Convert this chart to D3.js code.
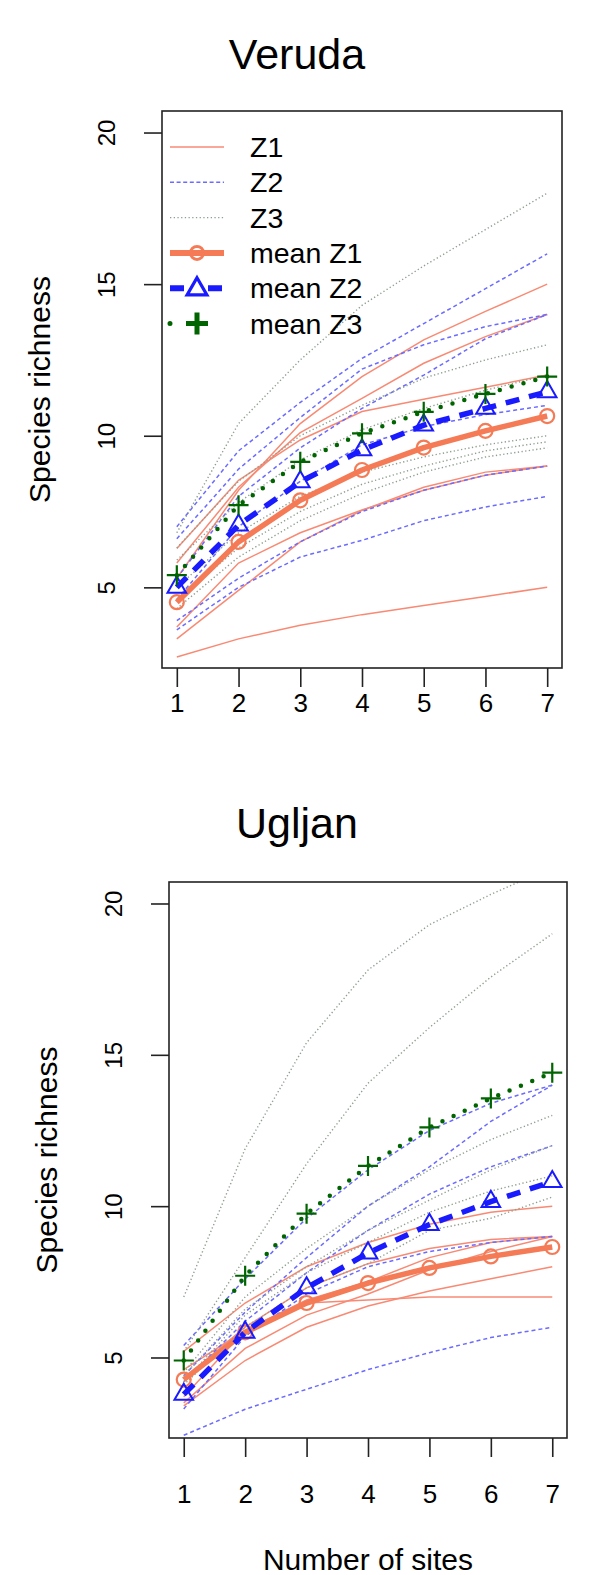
<!DOCTYPE html>
<html>
<head>
<meta charset="utf-8">
<script src="https://cdn.jsdelivr.net/npm/d3@7"></script>
<style>
  body { margin: 0; background: #fff; }
  text { font-family: "Liberation Sans", Arial, sans-serif; fill: #000; }
</style>
</head>
<body>
<svg></svg>
<script>
// ---- data ----
const sites = [1, 2, 3, 4, 5, 6, 7];
const yTicks = [5, 10, 15, 20];
const legendLabels = ['Z1', 'Z2', 'Z3', 'mean Z1', 'mean Z2', 'mean Z3'];

const verudaZ1 = [
  [2.70, 3.30, 3.75, 4.10, 4.40, 4.70, 5.00],
  [3.69, 5.80, 6.80, 7.55, 8.20, 8.70, 9.00],
  [3.30, 4.90, 6.50, 7.54, 8.30, 8.80, 9.00],
  [6.28, 8.53, 9.86, 10.80, 11.20, 11.60, 12.00],
  [5.30, 8.20, 10.40, 11.95, 13.16, 14.10, 15.00],
  [5.80, 8.30, 10.10, 11.23, 12.39, 13.27, 14.00]
];
const verudaZ2 = [
  [7.00, 9.50, 11.10, 12.55, 13.70, 14.85, 16.00],
  [6.60, 8.90, 10.60, 12.20, 13.00, 13.60, 14.00],
  [5.30, 8.00, 9.60, 10.90, 12.00, 13.20, 14.00],
  [4.60, 7.00, 8.50, 9.70, 10.30, 10.70, 11.00],
  [3.90, 5.30, 6.50, 7.50, 8.20, 8.70, 9.00],
  [3.60, 5.00, 6.00, 6.55, 7.20, 7.65, 8.00]
];
const verudaZ3 = [
  [6.80, 10.40, 12.50, 14.30, 15.60, 16.80, 18.00],
  [6.30, 8.50, 10.00, 11.00, 11.90, 12.50, 13.00],
  [5.90, 7.80, 9.20, 10.20, 10.90, 11.50, 12.00],
  [5.00, 6.80, 8.00, 8.80, 9.30, 9.70, 10.00],
  [4.60, 6.30, 7.50, 8.40, 9.00, 9.50, 9.80],
  [4.30, 6.00, 7.20, 8.10, 8.80, 9.30, 9.60]
];
const verudaMeanZ1 = [4.51, 6.50, 7.87, 8.87, 9.61, 10.16, 10.65];
const verudaMeanZ2 = [5.00, 7.05, 8.48, 9.53, 10.35, 10.90, 11.45];
const verudaMeanZ3 = [5.40, 7.71, 9.14, 10.08, 10.79, 11.38, 11.95];

const ugljanZ1 = [
  [5.20, 6.80, 8.00, 8.80, 9.40, 9.80, 10.00],
  [4.30, 6.00, 7.30, 8.10, 8.60, 8.90, 9.00],
  [3.50, 5.30, 6.40, 7.10, 7.90, 8.50, 9.00],
  [3.70, 5.90, 6.80, 6.90, 7.00, 7.00, 7.00],
  [3.40, 4.90, 6.00, 6.70, 7.20, 7.60, 8.00],
  [4.60, 5.90, 6.90, 7.50, 8.30, 8.80, 9.00]
];
const ugljanZ2 = [
  [5.40, 7.60, 9.60, 11.20, 12.50, 13.40, 14.00],
  [4.40, 6.50, 8.30, 10.00, 11.30, 12.80, 14.00],
  [4.20, 6.20, 7.80, 9.20, 10.40, 11.30, 12.00],
  [3.30, 5.70, 7.10, 8.00, 8.50, 8.80, 9.00],
  [2.43, 3.29, 3.95, 4.60, 5.16, 5.66, 6.00]
];
const ugljanZ3 = [
  [7.00, 11.90, 15.40, 17.80, 19.30, 20.30, 21.20],
  [5.20, 8.30, 11.40, 14.06, 15.90, 17.57, 19.00],
  [4.50, 7.00, 8.60, 10.00, 11.20, 12.20, 13.00],
  [4.40, 6.60, 8.00, 9.20, 10.20, 11.20, 12.00],
  [4.20, 6.40, 7.80, 8.80, 9.80, 10.50, 11.00],
  [4.10, 6.00, 7.30, 8.10, 9.20, 9.60, 10.30]
];
const ugljanMeanZ1 = [4.27, 5.83, 6.80, 7.46, 7.96, 8.34, 8.65];
const ugljanMeanZ2 = [3.78, 5.83, 7.30, 8.45, 9.39, 10.15, 10.81];
const ugljanMeanZ3 = [4.90, 7.70, 9.75, 11.33, 12.60, 13.56, 14.41];

// ---- styles ----
const col = {
  z1: '#f88a74', z2: '#6b6bff', z3: '#8f9f8f',
  m1: '#f47b56', m2: '#1a1aff', m3: '#006400'
};

const W = 591, H = 1575;
const svg = d3.select('svg').attr('width', W).attr('height', H);
svg.append('rect').attr('width', W).attr('height', H).attr('fill', '#fff');

const panels = [
  {id: 'veruda', title: 'Veruda', l: 162, r: 562, t: 111, b: 668, titleY: 69, xLabY: 712,
   z1: verudaZ1, z2: verudaZ2, z3: verudaZ3, m1: verudaMeanZ1, m2: verudaMeanZ2, m3: verudaMeanZ3, legend: true},
  {id: 'ugljan', title: 'Ugljan', l: 169, r: 567, t: 882, b: 1438, titleY: 838, xLabY: 1503,
   z1: ugljanZ1, z2: ugljanZ2, z3: ugljanZ3, m1: ugljanMeanZ1, m2: ugljanMeanZ2, m3: ugljanMeanZ3, legend: false}
];

const plusPath = s => `M${-s},0H${s}M0,${-s}V${s}`;

panels.forEach(p => {
  const x = d3.scaleLinear().domain([0.76, 7.24]).range([p.l, p.r]);
  const y = d3.scaleLinear().domain([2.34, 20.71]).range([p.b, p.t]);
  const line = d3.line().x((d, i) => x(sites[i])).y(d => y(d));

  svg.append('clipPath').attr('id', 'clip-' + p.id)
    .append('rect').attr('x', p.l).attr('y', p.t).attr('width', p.r - p.l).attr('height', p.b - p.t);

  const g = svg.append('g').attr('clip-path', `url(#clip-${p.id})`);

  // thin lines per replicate
  g.selectAll('path.z1').data(p.z1).join('path').attr('class', 'z1')
    .attr('d', line).attr('fill', 'none').attr('stroke', col.z1).attr('stroke-width', 1.5);
  g.selectAll('path.z2').data(p.z2).join('path').attr('class', 'z2')
    .attr('d', line).attr('fill', 'none').attr('stroke', col.z2).attr('stroke-width', 1.5)
    .attr('stroke-dasharray', '4,3');
  g.selectAll('path.z3').data(p.z3).join('path').attr('class', 'z3')
    .attr('d', line).attr('fill', 'none').attr('stroke', col.z3).attr('stroke-width', 1.4)
    .attr('stroke-dasharray', '1.3,2.4');

  // mean lines
  g.append('path').datum(p.m1).attr('d', line).attr('fill', 'none')
    .attr('stroke', col.m1).attr('stroke-width', 5.5).attr('stroke-linejoin', 'round');
  g.append('path').datum(p.m2).attr('d', line).attr('fill', 'none')
    .attr('stroke', col.m2).attr('stroke-width', 5.5).attr('stroke-dasharray', '14,10');
  g.append('path').datum(p.m3).attr('d', line).attr('fill', 'none')
    .attr('stroke', col.m3).attr('stroke-width', 4.5).attr('stroke-linecap', 'round')
    .attr('stroke-dasharray', '0,12.3');

  // markers
  g.selectAll('circle.m1').data(p.m1).join('circle').attr('class', 'm1')
    .attr('cx', (d, i) => x(sites[i])).attr('cy', d => y(d)).attr('r', 7)
    .attr('fill', 'none').attr('stroke', col.m1).attr('stroke-width', 2.2);
  g.selectAll('path.m2').data(p.m2).join('path').attr('class', 'm2')
    .attr('transform', (d, i) => `translate(${x(sites[i])},${y(d)})`)
    .attr('d', d3.symbol(d3.symbolTriangle, 150)())
    .attr('fill', 'none').attr('stroke', col.m2).attr('stroke-width', 2);
  g.selectAll('path.m3').data(p.m3).join('path').attr('class', 'm3')
    .attr('transform', (d, i) => `translate(${x(sites[i])},${y(d)})`)
    .attr('d', plusPath(10)).attr('fill', 'none').attr('stroke', col.m3).attr('stroke-width', 2.2);

  // box
  svg.append('rect').attr('x', p.l).attr('y', p.t).attr('width', p.r - p.l).attr('height', p.b - p.t)
    .attr('fill', 'none').attr('stroke', '#222').attr('stroke-width', 1.6);

  // axes
  const yAx = svg.append('g').attr('transform', `translate(${p.l},0)`)
    .call(d3.axisLeft(y).tickValues(yTicks).tickFormat(d3.format('d')).tickSize(18).tickSizeOuter(0));
  yAx.select('.domain').remove();
  yAx.selectAll('line').attr('stroke', '#222').attr('stroke-width', 1.6);
  yAx.selectAll('text').attr('x', null).attr('dy', null).attr('font-size', 24)
    .attr('font-family', '"Liberation Sans", Arial, sans-serif').attr('fill', '#000')
    .attr('text-anchor', 'middle').attr('transform', 'translate(-47,0) rotate(-90)');

  const xAx = svg.append('g').attr('transform', `translate(0,${p.b})`)
    .call(d3.axisBottom(x).tickValues(sites).tickFormat(d3.format('d')).tickSize(19).tickSizeOuter(0));
  xAx.select('.domain').remove();
  xAx.selectAll('line').attr('stroke', '#222').attr('stroke-width', 1.6);
  xAx.selectAll('text').attr('y', p.xLabY - p.b).attr('dy', null).attr('font-size', 26)
    .attr('font-family', '"Liberation Sans", Arial, sans-serif').attr('fill', '#000');

  // titles
  svg.append('text').attr('x', 297).attr('y', p.titleY).attr('text-anchor', 'middle')
    .attr('font-size', 43).text(p.title);
  const cy = (p.t + p.b) / 2;
  svg.append('text').attr('transform', `translate(${p.l - 112},${cy}) rotate(-90)`)
    .attr('text-anchor', 'middle').attr('font-size', 30).text('Species richness');

  if (p.legend) {
    const lx0 = p.l + 8, lx1 = p.l + 62, lmid = p.l + 35, tx = p.l + 88;
    const rowY = i => p.t + 36 + i * 35.3;
    const lg = svg.append('g');
    const specs = [
      {stroke: col.z1, w: 1.5, dash: null},
      {stroke: col.z2, w: 1.5, dash: '4,2.6'},
      {stroke: col.z3, w: 1.4, dash: '1.3,2.4'},
      {stroke: col.m1, w: 6, dash: null},
      {stroke: col.m2, w: 6, dash: '14,24'},
      {stroke: col.m3, w: 5, dash: '0,27', cap: 'round', end: p.l + 40}
    ];
    specs.forEach((s, i) => {
      lg.append('line').attr('x1', lx0).attr('x2', s.end || lx1)
        .attr('y1', rowY(i)).attr('y2', rowY(i))
        .attr('stroke', s.stroke).attr('stroke-width', s.w)
        .attr('stroke-dasharray', s.dash).attr('stroke-linecap', s.cap || 'butt');
      lg.append('text').attr('x', tx).attr('y', rowY(i) + 10).attr('font-size', 28.5)
        .text(legendLabels[i]);
    });
    lg.append('circle').attr('cx', lmid).attr('cy', rowY(3)).attr('r', 6.5)
      .attr('fill', 'none').attr('stroke', col.m1).attr('stroke-width', 3);
    lg.append('path').attr('transform', `translate(${lmid},${rowY(4) + 1})`)
      .attr('d', d3.symbol(d3.symbolTriangle, 170)())
      .attr('fill', '#fff').attr('stroke', col.m2).attr('stroke-width', 3.2);
    lg.append('path').attr('transform', `translate(${lmid},${rowY(5)})`)
      .attr('d', plusPath(11)).attr('stroke', col.m3).attr('stroke-width', 5);
  }
});

svg.append('text').attr('x', 368).attr('y', 1570).attr('text-anchor', 'middle')
  .attr('font-size', 30).text('Number of sites');
</script>
</body>
</html>
